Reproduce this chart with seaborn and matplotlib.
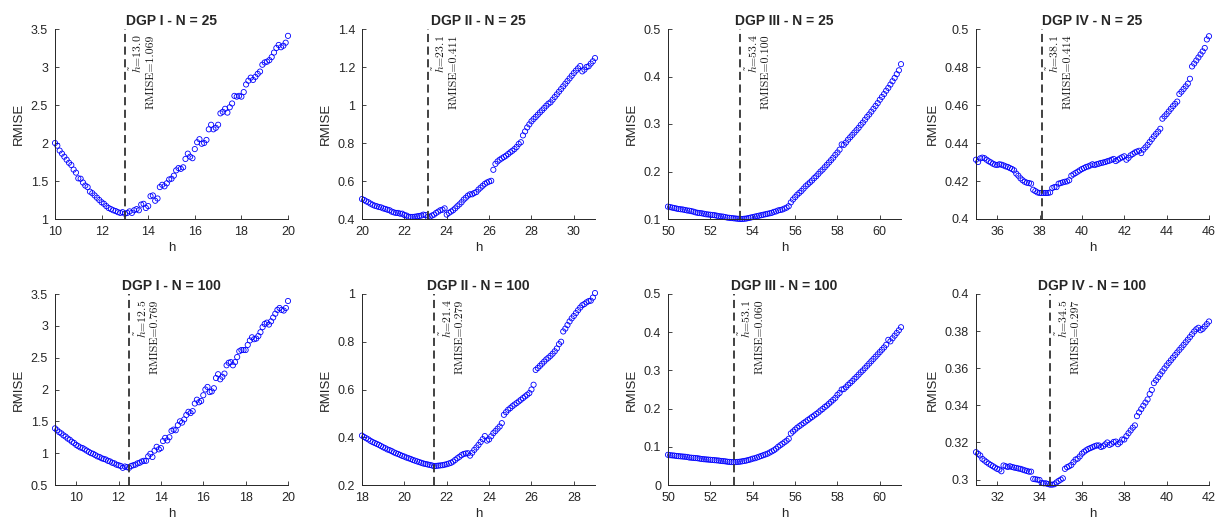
import numpy as np
import matplotlib
matplotlib.use("Agg")
import matplotlib.pyplot as plt
import matplotlib.transforms as mtrans
from matplotlib.ticker import FuncFormatter
import seaborn as sns

# ---------------- data ----------------
titles = ["DGP I - N = 25", "DGP II - N = 25", "DGP III - N = 25", "DGP IV - N = 25",
          "DGP I - N = 100", "DGP II - N = 100", "DGP III - N = 100", "DGP IV - N = 100"]

h_start = [10.0, 20.0, 50.0, 35.0, 9.0, 18.0, 50.0, 31.0]
h_stop = [20.0, 31.0, 61.0, 46.0, 20.0, 29.0, 61.0, 42.0]
h_step = 0.1

h_opt = [13.0, 23.1, 53.4, 38.1, 12.5, 21.4, 53.1, 34.5]
rmise_opt = ["1.069", "0.411", "0.100", "0.414", "0.769", "0.279", "0.060", "0.297"]
h_opt_lbl = ["13.0", "23.1", "53.4", "38.1", "12.5", "21.4", "53.1", "34.5"]

rmise_dgp1_n25 = [
    2.00, 1.965, 1.90, 1.86, 1.82, 1.78, 1.74, 1.71, 1.65, 1.61,
    1.535, 1.53, 1.48, 1.44, 1.42, 1.36, 1.34, 1.31, 1.28, 1.25,
    1.22, 1.20, 1.17, 1.145, 1.13, 1.115, 1.105, 1.09, 1.08, 1.09,
    1.07, 1.08, 1.10, 1.08, 1.115, 1.13, 1.115, 1.19, 1.20, 1.145,
    1.17, 1.30, 1.31, 1.24, 1.27, 1.42, 1.45, 1.43, 1.47, 1.52,
    1.53, 1.57, 1.64, 1.67, 1.66, 1.68, 1.79, 1.86, 1.82, 1.80,
    1.92, 2.01, 2.05, 1.99, 2.00, 2.04, 2.18, 2.24, 2.18, 2.20,
    2.24, 2.39, 2.41, 2.45, 2.40, 2.47, 2.52, 2.62, 2.61, 2.62,
    2.61, 2.67, 2.77, 2.82, 2.86, 2.83, 2.87, 2.91, 2.94, 3.03,
    3.06, 3.07, 3.09, 3.13, 3.19, 3.25, 3.29, 3.26, 3.28, 3.32,
    3.41]

rmise_dgp2_n25 = [
    .505, .500, .493, .488, .481, .475, .470, .467, .463, .461,
    .456, .453, .449, .446, .439, .435, .432, .432, .428, .428,
    .421, .418, .412, .411, .411, .412, .414, .416, .418, .423,
    .421, .411, .412, .418, .423, .432, .439, .446, .449, .456,
    .423, .432, .439, .446, .456, .467, .477, .488, .502, .512,
    .523, .530, .530, .537, .542, .555, .565, .575, .585, .592,
    .597, .601, .659, .690, .703, .712, .719, .726, .733, .742,
    .751, .759, .768, .779, .795, .804, .840, .861, .882, .898,
    .914, .926, .937, .949, .961, .972, .984, .996, 1.007, 1.014,
    1.028, 1.042, 1.056, 1.070, 1.084, 1.098, 1.112, 1.126, 1.140, 1.154,
    1.168, 1.181, 1.193, 1.205, 1.177, 1.186, 1.200, 1.204, 1.218, 1.230,
    1.247]

rmise_dgp3_n25 = [
    .126, .125, .124, .123, .122, .121, .1205, .120, .119, .118,
    .1175, .1165, .1155, .114, .113, .1125, .112, .111, .110, .1095,
    .109, .1085, .108, .107, .106, .1055, .105, .104, .103, .1025,
    .102, .1015, .101, .1005, .100, .100, .1005, .101, .102, .103,
    .104, .105, .106, .107, .108, .109, .110, .111, .112, .113,
    .115, .116, .118, .119, .120, .122, .124, .127, .135, .141,
    .146, .151, .155, .159, .164, .169, .173, .177, .181, .186,
    .190, .195, .200, .204, .209, .214, .219, .224, .229, .235,
    .240, .246, .257, .256, .261, .267, .272, .277, .282, .287,
    .292, .298, .303, .309, .315, .320, .326, .332, .338, .344,
    .351, .357, .363, .370, .376, .383, .390, .397, .405, .413,
    .426]

rmise_dgp4_n25 = [
    .4312, .4300, .4319, .4323, .4320, .4312, .4304, .4298, .4291, .4286,
    .4284, .4288, .4286, .4282, .4277, .4274, .4268, .4263, .4256, .4239,
    .4228, .4214, .4204, .4196, .4191, .4189, .4186, .4154, .4147, .4140,
    .4137, .4137, .4137, .4137, .4137, .4140, .4163, .4168, .4168, .4186,
    .4189, .4193, .4196, .4198, .4204, .4228, .4235, .4242, .4249, .4256,
    .4263, .4268, .4274, .4277, .4282, .4288, .4284, .4288, .4291, .4295,
    .4297, .4300, .4304, .4307, .4312, .4316, .4305, .4312, .4319, .4325,
    .4330, .4312, .4322, .4335, .4342, .4350, .4355, .4359, .4347, .4365,
    .4377, .4390, .4405, .4420, .4435, .4448, .4460, .4475, .4528, .4540,
    .4552, .4566, .4580, .4594, .4606, .4618, .4658, .4670, .4684, .4698,
    .4712, .4738, .4803, .4818, .4834, .4850, .4866, .4882, .4900, .4945,
    .4962]

rmise_dgp1_n100 = [
    1.39, 1.36, 1.33, 1.31, 1.28, 1.26, 1.23, 1.21, 1.18, 1.16,
    1.13, 1.11, 1.09, 1.08, 1.06, 1.04, 1.02, 1.00, 0.99, 0.97,
    0.95, 0.94, 0.92, 0.91, 0.90, 0.88, 0.87, 0.85, 0.84, 0.82,
    0.81, 0.80, 0.77, 0.79, 0.78, 0.77, 0.80, 0.81, 0.82, 0.84,
    0.85, 0.87, 0.88, 0.88, 0.95, 0.99, 0.94, 1.04, 1.10, 1.06,
    1.08, 1.19, 1.24, 1.20, 1.25, 1.35, 1.37, 1.36, 1.44, 1.50,
    1.48, 1.53, 1.60, 1.65, 1.63, 1.66, 1.78, 1.84, 1.80, 1.82,
    1.91, 2.00, 2.04, 1.96, 1.97, 2.02, 2.18, 2.24, 2.16, 2.20,
    2.25, 2.38, 2.42, 2.43, 2.38, 2.43, 2.51, 2.60, 2.62, 2.62,
    2.62, 2.70, 2.77, 2.82, 2.79, 2.80, 2.84, 2.90, 2.98, 3.03,
    3.05, 3.02, 3.07, 3.13, 3.19, 3.25, 3.28, 3.25, 3.24, 3.28,
    3.39]

rmise_dgp2_n100 = [
    .407, .401, .396, .391, .385, .380, .376, .372, .368, .363,
    .358, .354, .349, .346, .342, .337, .333, .330, .326, .322,
    .319, .315, .312, .309, .305, .302, .299, .296, .293, .290,
    .288, .286, .284, .282, .279, .280, .281, .282, .283, .285,
    .287, .290, .293, .298, .305, .312, .318, .325, .330, .332,
    .333, .323, .335, .347, .357, .368, .380, .392, .405, .386,
    .391, .404, .417, .426, .436, .445, .459, .494, .505, .515,
    .522, .530, .537, .543, .550, .557, .564, .571, .578, .585,
    .600, .620, .682, .690, .699, .708, .717, .726, .733, .741,
    .750, .760, .772, .790, .800, .843, .855, .870, .885, .898,
    .908, .920, .932, .943, .953, .958, .965, .970, .972, .985,
    1.004]

rmise_dgp3_n100 = [
    .079, .078, .0775, .077, .076, .0755, .075, .0745, .074, .0735,
    .072, .0715, .071, .0705, .070, .069, .068, .0675, .067, .0665,
    .066, .0655, .065, .0645, .064, .063, .0625, .062, .061, .0605,
    .060, .060, .060, .0605, .061, .062, .063, .064, .0655, .067,
    .069, .070, .072, .074, .076, .078, .080, .082, .085, .088,
    .091, .095, .100, .104, .108, .112, .116, .121, .135, .140,
    .145, .150, .154, .158, .162, .166, .170, .174, .178, .182,
    .186, .190, .195, .199, .204, .208, .213, .218, .223, .228,
    .236, .241, .250, .251, .256, .262, .267, .272, .278, .283,
    .289, .295, .300, .306, .312, .318, .324, .330, .336, .342,
    .348, .354, .360, .367, .380, .376, .384, .391, .398, .405,
    .413]

rmise_dgp4_n100 = [
    .3148, .3139, .3130, .3112, .3103, .3094, .3086, .3079, .3072, .3065,
    .3058, .3054, .3045, .3076, .3072, .3068, .3072, .3068, .3065, .3063,
    .3060, .3058, .3054, .3050, .3047, .3043, .3043, .3004, .3002, .3000,
    .2998, .2982, .2980, .2980, .2976, .2973, .2973, .2975, .2985, .2993,
    .3000, .3007, .3058, .3067, .3072, .3079, .3094, .3108, .3113, .3125,
    .3140, .3150, .3158, .3165, .3170, .3175, .3180, .3184, .3184, .3176,
    .3180, .3190, .3200, .3187, .3193, .3203, .3205, .3191, .3200, .3216,
    .3216, .3234, .3250, .3265, .3280, .3292, .3342, .3362, .3380, .3398,
    .3415, .3432, .3461, .3483, .3520, .3535, .3551, .3567, .3583, .3599,
    .3615, .3629, .3643, .3657, .3671, .3685, .3699, .3712, .3726, .3740,
    .3754, .3768, .3783, .3798, .3810, .3818, .3805, .3812, .3825, .3838,
    .3852]

series = [rmise_dgp1_n25, rmise_dgp2_n25, rmise_dgp3_n25, rmise_dgp4_n25,
          rmise_dgp1_n100, rmise_dgp2_n100, rmise_dgp3_n100, rmise_dgp4_n100]

y_lims = [(1.0, 3.5), (0.4, 1.4), (0.1, 0.5), (0.4, 0.5),
          (0.5, 3.5), (0.2, 1.0), (0.0, 0.5), (0.2971, 0.4)]
y_ticks = [[1, 1.5, 2, 2.5, 3, 3.5], [0.4, 0.6, 0.8, 1.0, 1.2, 1.4],
           [0.1, 0.2, 0.3, 0.4, 0.5], [0.4, 0.42, 0.44, 0.46, 0.48, 0.5],
           [0.5, 1, 1.5, 2, 2.5, 3, 3.5], [0.2, 0.4, 0.6, 0.8, 1.0],
           [0, 0.1, 0.2, 0.3, 0.4, 0.5], [0.3, 0.32, 0.34, 0.36, 0.38, 0.4]]
x_ticks = [[10, 12, 14, 16, 18, 20], [20, 22, 24, 26, 28, 30],
           [50, 52, 54, 56, 58, 60], [36, 38, 40, 42, 44, 46],
           [10, 12, 14, 16, 18, 20], [18, 20, 22, 24, 26, 28],
           [50, 52, 54, 56, 58, 60], [32, 34, 36, 38, 40, 42]]

# ---------------- style ----------------
sns.set_style("ticks")
plt.rcParams["font.family"] = ["Liberation Sans", "DejaVu Sans"]
plt.rcParams["mathtext.fontset"] = "cm"
plt.rcParams["xtick.direction"] = "in"
plt.rcParams["ytick.direction"] = "in"

W, H = 1222, 525
fig = plt.figure(figsize=(W / 100, H / 100), dpi=100)
fig.patch.set_facecolor("white")

lefts_px = [55, 362, 668, 976]
width_px = 233
rows_px = [(29, 219), (294, 485)]

fmt = FuncFormatter(lambda v, p: f"{v:g}")
axcol = "0.15"

for i in range(8):
    r, c = divmod(i, 4)
    top, bot = rows_px[r]
    ax = fig.add_axes([lefts_px[c] / W, 1 - bot / H, width_px / W, (bot - top) / H])
    ax.set_facecolor("white")
    vals = np.array(series[i])
    hs = np.round(np.arange(h_start[i], h_stop[i] + h_step / 2, h_step), 1)[: len(vals)]
    sns.scatterplot(x=hs, y=vals, ax=ax, marker="o", s=14, facecolor="none",
                    edgecolor="#0000ff", linewidth=0.6, legend=False, clip_on=False)
    ax.axvline(h_opt[i], color="0.2", lw=1.3, ls=(0, (4.5, 2.5)))
    ax.set_xlim(h_start[i], h_stop[i])
    ax.set_ylim(*y_lims[i])
    ax.set_xticks(x_ticks[i])
    ax.set_yticks(y_ticks[i])
    ax.xaxis.set_major_formatter(fmt)
    ax.yaxis.set_major_formatter(fmt)
    ax.tick_params(axis="both", labelsize=9, colors=axcol, length=3, width=0.6)
    ax.tick_params(axis="x", pad=5)
    ax.tick_params(axis="y", pad=5)
    for s in ["top", "right"]:
        ax.spines[s].set_visible(False)
    for s in ["left", "bottom"]:
        ax.spines[s].set_color(axcol)
        ax.spines[s].set_linewidth(0.7)
    ax.set_xlabel("h", fontsize=9.5, color=axcol, labelpad=3)
    ax.set_ylabel("RMISE", fontsize=9.5, color=axcol, labelpad=4)
    ax.set_title(titles[i], fontsize=10, fontweight="bold", pad=3)

    trans = mtrans.offset_copy(ax.get_xaxis_transform(), fig=fig, x=2.5, y=-4, units="points")
    ax.text(h_opt[i], 1.0, r"$\tilde{h}$=" + h_opt_lbl[i] + "\nRMISE=" + rmise_opt[i],
            transform=trans, rotation=90, ha="left", va="top", multialignment="right",
            fontsize=8.5, family="cmr10", color="0.1", linespacing=1.25)

fig.savefig("out.png", dpi=100, facecolor="white")
